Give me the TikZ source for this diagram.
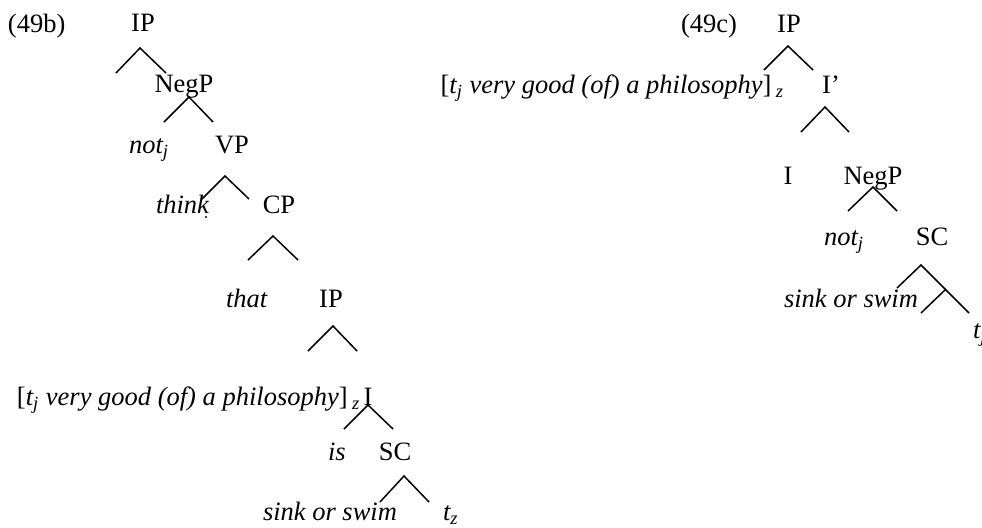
\documentclass[tikz,border=0pt]{standalone}
\usepackage{fontspec}
\setmainfont{Liberation Serif}
\begin{document}
\begin{tikzpicture}[x=0.5pt,y=-0.5pt,
  lbl/.style={inner sep=0pt,outer sep=0pt,font=\fontsize{13.25}{16}\selectfont},
  cat/.style={lbl,anchor=base},
  word/.style={lbl,anchor=base west,font=\fontsize{13.25}{16}\selectfont\itshape},
  branch/.style={line width=0.75pt,line join=miter}]
\useasboundingbox (0,0) rectangle (982,527);
% ---------- (49b) ----------
\node[lbl,anchor=base west] (lab49b) at (8,32) {(49b)};
\node[cat] (ip1) at (143,31) {IP};
\node[cat] (negp1) at (184,92) {NegP};
\node[word] (not1) at (129,153) {not\textsubscript{j}};
\node[cat] (vp1) at (232,153) {VP};
\node[word] (think1) at (156,213) {think};
\fill (206,217) circle (1.2);
\node[cat] (cp1) at (279,213) {CP};
\node[word] (that1) at (226,307) {that};
\node[cat] (ip2) at (331,307) {IP};
\node[lbl,anchor=base west] (subj1) at (17,405) {[\textit{t\textsubscript{j} very good (of) a philosophy}]\,\textsubscript{\textit{z}}};
\node[cat] (i1) at (368,405) {I};
\node[word] (is1) at (328,460) {is};
\node[cat] (sc1) at (395,460) {SC};
\node[word] (sos1) at (263,520) {sink or swim};
\node[word] (tz1) at (443,520) {t\textsubscript{z}};
% branches
\coordinate (a1) at (140,48); \coordinate (a1l) at (116,73); \coordinate (a1r) at (166,73);
\coordinate (a2) at (189,97); \coordinate (a2l) at (164,122); \coordinate (a2r) at (213,122);
\coordinate (a3) at (225,176); \coordinate (a3l) at (202,199); \coordinate (a3r) at (249,199);
\coordinate (a4) at (273,236); \coordinate (a4l) at (248,260); \coordinate (a4r) at (298,260);
\coordinate (a5) at (333,326); \coordinate (a5l) at (308,351); \coordinate (a5r) at (357,351);
\coordinate (a6) at (368,405); \coordinate (a6l) at (344,429); \coordinate (a6r) at (393,429);
\coordinate (a7) at (404,476); \coordinate (a7l) at (380,502); \coordinate (a7r) at (429,502);
\foreach \t in {a1,a2,a3,a4,a5,a6,a7}{\draw[branch] (\t l) -- (\t) -- (\t r);}
% ---------- (49c) ----------
\node[lbl,anchor=base west] (lab49c) at (681,32) {(49c)};
\node[cat] (ip3) at (789,32) {IP};
\node[lbl,anchor=base east] (subj2) at (784,93) {[\textit{t\textsubscript{j} very good (of) a philosophy}]\,\textsubscript{\textit{z}}};
\node[cat] (ibar) at (831,93) {I’};
\node[cat] (i2) at (788,184) {I};
\node[cat] (negp2) at (873,184) {NegP};
\node[word] (not2) at (824,245) {not\textsubscript{j}};
\node[cat] (sc2) at (932,245) {SC};
\node[word] (sos2) at (784,307) {sink or swim};
\node[word] (tj2) at (973,338) {t\textsubscript{j}};
\coordinate (b1) at (788,46); \coordinate (b1l) at (764,70); \coordinate (b1r) at (813,70);
\coordinate (b2) at (825,107); \coordinate (b2l) at (801,132); \coordinate (b2r) at (849,132);
\coordinate (b3) at (873,187); \coordinate (b3l) at (848,211); \coordinate (b3r) at (897,211);
\coordinate (b4) at (921,265); \coordinate (b4l) at (897,288); \coordinate (b4r) at (969,313);
\coordinate (b5) at (946,289); \coordinate (b5l) at (921,313);
\foreach \t in {b1,b2,b3,b4}{\draw[branch] (\t l) -- (\t) -- (\t r);}
\draw[branch] (b5) -- (b5l);
\end{tikzpicture}
\end{document}
